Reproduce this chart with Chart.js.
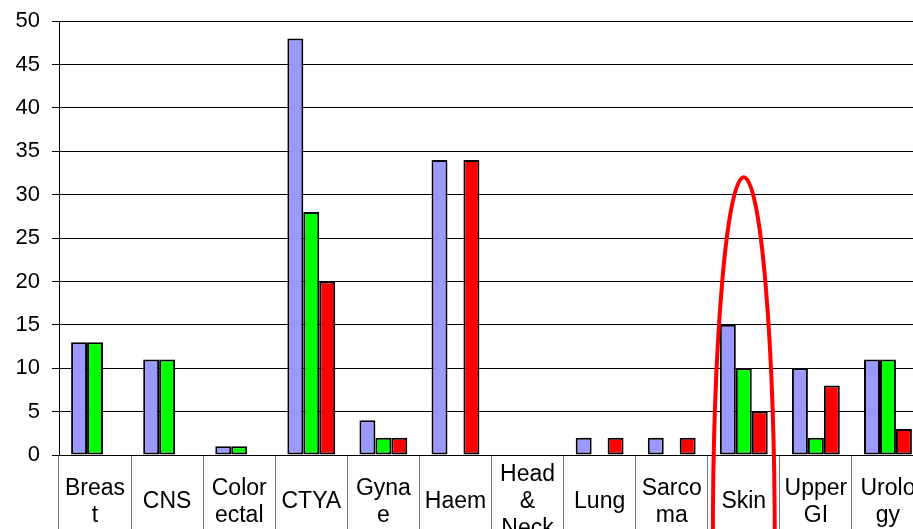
<!DOCTYPE html>
<html lang="en">
<head>
    <meta charset="UTF-8">
    <title>Cases by Tumour Site</title>
    <script src="https://cdn.jsdelivr.net/npm/chart.js"></script>
    <style>
        html, body { margin: 0; padding: 0; background: #fff; overflow: hidden; }
        #wrap { position: absolute; left: 0; top: -4px; width: 924px; height: 560px; }
    </style>
</head>
<body>
    <div id="wrap"><canvas id="siteChart" width="924" height="560"></canvas></div>

    <script>
        // Categories (wrapped the same way as the original table cells)
        const categories = [['Breas', 't'], 'CNS', ['Color', 'ectal'], 'CTYA', ['Gyna', 'e'], 'Haem',
            ['Head', '&', 'Neck'], 'Lung', ['Sarco', 'ma'], 'Skin', ['Upper', 'GI'], ['Urolo', 'gy']];

        // Series values
        const blueValues  = [13, 11, 1, 48, 4, 34, 0, 2, 2, 15, 10, 11];
        const greenValues = [13, 11, 1, 28, 2, 0, 0, 0, 0, 10, 2, 11];
        const redValues   = [0, 0, 0, 20, 2, 34, 0, 2, 2, 5, 8, 3];

        // Y axis ticks
        const yMin = 0, yMax = 50, yStep = 5;

        // Highlight ring round one category
        const highlightIndex = 9;
        const highlightTop = 32;

        const fontFamily = '"Liberation Sans", Arial, sans-serif';

        const highlightRing = {
            id: 'highlightRing',
            afterDraw(chart) {
                const ctx = chart.ctx;
                const cx = chart.scales.x.getPixelForValue(highlightIndex);
                const top = chart.scales.y.getPixelForValue(highlightTop);
                const rx = 31, ry = 370;
                ctx.save();
                ctx.strokeStyle = '#ff0000';
                ctx.lineWidth = 4;
                ctx.beginPath();
                ctx.ellipse(cx, top + ry, rx, ry, 0, 0, Math.PI * 2);
                ctx.stroke();
                ctx.restore();
            }
        };

        const ctx = document.getElementById('siteChart').getContext('2d');
        const siteChart = new Chart(ctx, {
            type: 'bar',
            data: {
                labels: categories,
                datasets: [
                    { label: 'Series 1', data: blueValues, backgroundColor: '#9999ff' },
                    { label: 'Series 2', data: greenValues, backgroundColor: '#00ff00' },
                    { label: 'Series 3', data: redValues, backgroundColor: '#ff0000' }
                ]
            },
            options: {
                responsive: false,
                animation: false,
                devicePixelRatio: 1,
                layout: { padding: { top: 18, right: 0, bottom: 0, left: 0 } },
                datasets: {
                    bar: {
                        borderColor: '#000',
                        borderWidth: 2,
                        borderSkipped: false,
                        barPercentage: 1,
                        categoryPercentage: 0.664
                    }
                },
                plugins: {
                    legend: { display: false },
                    tooltip: { enabled: false }
                },
                scales: {
                    x: {
                        offset: true,
                        border: { display: true, color: '#000', width: 1 },
                        grid: {
                            offset: true,
                            drawOnChartArea: false,
                            drawTicks: true,
                            tickLength: 80,
                            color: '#777'
                        },
                        ticks: {
                            color: '#000',
                            font: { family: fontFamily, size: 23, lineHeight: 1.17 },
                            padding: -60,
                            crossAlign: 'center',
                            maxRotation: 0,
                            autoSkip: false
                        },
                        afterFit: (scale) => { scale.height = 101; }
                    },
                    y: {
                        min: yMin,
                        max: yMax,
                        border: { display: true, color: '#000', width: 1 },
                        grid: {
                            color: '#000',
                            lineWidth: 1,
                            drawTicks: true,
                            tickLength: 7
                        },
                        ticks: {
                            stepSize: yStep,
                            color: '#000',
                            padding: 12,
                            font: { family: fontFamily, size: 22 }
                        },
                        afterFit: (scale) => { scale.width = 59; }
                    }
                }
            },
            plugins: [highlightRing]
        });
    </script>
</body>
</html>
